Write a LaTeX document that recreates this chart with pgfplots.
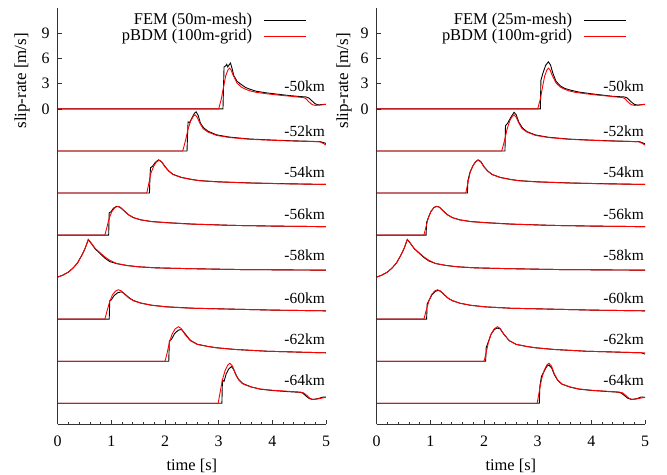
\documentclass[border=0pt]{standalone}
\usepackage{fontspec}
\setmainfont{Liberation Serif}
\usepackage{pgfplots}
\usepackage{pgfplotstable}
\pgfplotsset{compat=1.18}

% ---- pBDM (100m-grid), shared by both panels ----
\pgfplotstableread{
t v
0 0
3.00 0
3.05 1.2
3.09 2.6
3.13 3.9
3.17 4.6
3.20 4.85
3.23 4.65
3.27 4.0
3.34 3.1
3.42 2.6
3.50 2.35
3.58 2.15
3.70 1.97
3.90 1.80
4.10 1.65
4.27 1.55
4.45 1.43
4.57 1.36
4.62 1.25
4.68 0.85
4.74 0.52
4.80 0.42
4.88 0.45
5.00 0.55
}\Ra
\pgfplotstableread{
t v
0 0
2.33 0
2.38 1.2
2.43 2.6
2.48 3.6
2.53 4.15
2.56 4.3
2.60 4.0
2.65 3.3
2.71 2.65
2.80 2.25
2.96 1.85
3.20 1.60
3.58 1.39
4.00 1.27
4.33 1.19
4.70 1.13
4.88 1.10
4.95 0.9
5.00 0.7
}\Rb
\pgfplotstableread{
t v
0 0
1.66 0
1.70 1.2
1.74 2.4
1.79 3.2
1.84 3.7
1.89 3.9
1.94 3.7
2.00 3.1
2.07 2.6
2.15 2.2
2.30 1.85
2.50 1.60
2.65 1.46
3.00 1.32
3.58 1.19
4.20 1.10
5.00 1.02
}\Rc
\pgfplotstableread{
t v
0 0
0.88 0
0.92 1.0
0.96 2.0
1.01 2.8
1.07 3.3
1.12 3.4
1.17 3.3
1.24 2.85
1.32 2.4
1.41 2.07
1.55 1.8
1.75 1.6
2.03 1.47
2.50 1.30
3.27 1.15
4.00 1.07
5.00 1.00
}\Rd
\pgfplotstableread{
t v
0 0
0.10 0.25
0.20 0.6
0.29 1.1
0.37 1.7
0.45 2.6
0.51 3.4
0.57 4.48
0.62 4.1
0.70 3.4
0.79 2.9
0.88 2.4
0.97 2.0
1.10 1.62
1.29 1.39
1.50 1.23
1.84 1.10
2.50 1.00
3.40 0.90
4.20 0.86
5.00 0.83
}\Re
\pgfplotstableread{
t v
0 0
0.88 0
0.92 1.0
0.97 2.1
1.02 2.9
1.08 3.35
1.13 3.5
1.19 3.35
1.26 2.9
1.33 2.5
1.41 2.2
1.55 1.9
1.75 1.65
2.03 1.46
2.50 1.30
3.27 1.19
4.00 1.08
5.00 0.99
}\Rf
\pgfplotstableread{
t v
0 0
2.00 0
2.04 1.0
2.08 2.2
2.13 3.2
2.19 3.85
2.25 4.1
2.30 3.9
2.37 3.2
2.47 2.45
2.60 2.0
2.80 1.75
2.96 1.6
3.30 1.4
3.90 1.19
4.50 1.08
5.00 1.00
}\Rg
\pgfplotstableread{
t v
0 0
2.99 0
3.03 1.4
3.07 2.8
3.12 3.9
3.17 4.55
3.21 4.76
3.26 4.4
3.31 3.5
3.37 2.8
3.45 2.3
3.60 1.95
3.77 1.70
4.00 1.55
4.30 1.42
4.52 1.33
4.58 1.25
4.64 0.95
4.70 0.60
4.76 0.45
4.85 0.52
4.95 0.65
5.00 0.72
}\Rh

% ---- FEM (50m-mesh), left panel ----
\pgfplotstableread{
t v
0 0
3.08 0
3.09 2.5
3.10 5.0
3.13 5.1
3.15 5.3
3.17 5.0
3.19 5.2
3.22 5.45
3.25 4.8
3.28 4.0
3.34 3.3
3.40 3.0
3.50 2.55
3.60 2.3
3.70 2.1
3.90 1.9
4.10 1.75
4.30 1.6
4.50 1.48
4.63 1.42
4.68 1.3
4.74 0.95
4.80 0.6
4.86 0.48
4.93 0.52
5.00 0.55
}\Ba
\pgfplotstableread{
t v
0 0
2.41 0
2.42 2.0
2.43 3.45
2.46 3.4
2.50 3.9
2.55 4.5
2.58 4.65
2.62 4.2
2.66 3.3
2.72 2.75
2.80 2.35
2.96 1.92
3.20 1.65
3.58 1.42
4.00 1.30
4.33 1.22
4.70 1.15
4.90 1.10
5.00 0.9
}\Bb
\pgfplotstableread{
t v
0 0
1.71 0
1.72 2.0
1.73 3.0
1.77 3.2
1.82 3.65
1.88 3.95
1.93 3.75
2.00 3.15
2.07 2.62
2.15 2.22
2.30 1.87
2.50 1.61
2.65 1.47
3.00 1.33
3.58 1.20
4.20 1.11
5.00 1.02
}\Bc
\pgfplotstableread{
t v
0 0
0.95 0
0.96 2.66
0.99 2.75
1.04 3.2
1.10 3.42
1.15 3.35
1.24 2.87
1.32 2.42
1.41 2.08
1.55 1.81
1.75 1.61
2.03 1.48
2.50 1.31
3.27 1.15
4.00 1.07
5.00 1.00
}\Bd
\pgfplotstableread{
t v
0 0
0.10 0.25
0.20 0.6
0.29 1.1
0.37 1.7
0.45 2.6
0.51 3.4
0.57 4.45
0.62 4.05
0.70 3.35
0.79 2.8
0.88 2.25
0.97 1.85
1.10 1.6
1.29 1.38
1.50 1.23
1.84 1.10
2.50 1.00
3.40 0.90
4.20 0.86
5.00 0.83
}\Be
\pgfplotstableread{
t v
0 0
0.96 0
0.97 2.2
1.00 2.3
1.05 2.8
1.12 3.15
1.19 3.25
1.25 3.0
1.33 2.55
1.41 2.22
1.55 1.92
1.75 1.66
2.03 1.47
2.50 1.31
3.27 1.19
4.00 1.08
5.00 0.99
}\Bf
\pgfplotstableread{
t v
0 0
2.07 0
2.08 2.4
2.12 2.6
2.18 3.3
2.25 3.7
2.31 3.77
2.37 3.3
2.47 2.5
2.60 2.02
2.80 1.76
2.96 1.6
3.30 1.4
3.90 1.19
4.50 1.08
5.00 1.00
}\Bg
\pgfplotstableread{
t v
0 0
3.06 0
3.07 2.77
3.10 2.6
3.14 3.5
3.19 4.1
3.24 4.36
3.28 4.0
3.33 3.3
3.37 2.85
3.45 2.35
3.60 1.95
3.77 1.68
4.00 1.52
4.30 1.38
4.52 1.30
4.57 1.2
4.63 0.85
4.69 0.55
4.75 0.45
4.85 0.55
4.95 0.75
5.00 0.72
}\Bh

% ---- FEM (25m-mesh), right panel ----
\pgfplotstableread{
t v
0 0
3.05 0
3.06 3.4
3.10 4.3
3.15 5.2
3.20 5.6
3.24 5.2
3.28 4.3
3.34 3.3
3.42 2.75
3.50 2.45
3.60 2.25
3.77 2.0
4.00 1.8
4.20 1.65
4.40 1.5
4.62 1.42
4.67 1.3
4.73 0.9
4.80 0.55
4.86 0.45
4.93 0.5
5.00 0.55
}\Ca
\pgfplotstableread{
t v
0 0
2.39 0
2.40 3.0
2.44 3.3
2.50 4.0
2.56 4.6
2.60 4.3
2.65 3.4
2.72 2.72
2.80 2.3
2.96 1.9
3.20 1.63
3.58 1.41
4.00 1.29
4.33 1.21
4.70 1.14
4.90 1.1
5.00 0.85
}\Cb
\pgfplotstableread{
t v
0 0
1.69 0
1.70 1.5
1.74 2.5
1.79 3.2
1.84 3.7
1.89 3.95
1.94 3.75
2.00 3.12
2.07 2.61
2.15 2.21
2.30 1.86
2.50 1.61
2.65 1.47
3.00 1.33
3.58 1.2
4.20 1.11
5.00 1.02
}\Cc
\pgfplotstableread{
t v
0 0
0.92 0
0.93 1.5
0.97 2.2
1.01 2.8
1.07 3.3
1.12 3.42
1.17 3.32
1.24 2.87
1.32 2.42
1.41 2.08
1.55 1.81
1.75 1.61
2.03 1.48
2.50 1.31
3.27 1.15
4.00 1.07
5.00 1.00
}\Cd
\pgfplotstableread{
t v
0 0
0.10 0.25
0.20 0.6
0.29 1.1
0.37 1.7
0.45 2.6
0.51 3.4
0.57 4.46
0.62 4.08
0.70 3.38
0.79 2.85
0.88 2.33
0.97 1.93
1.10 1.61
1.29 1.39
1.50 1.23
1.84 1.10
2.50 1.00
3.40 0.90
4.20 0.86
5.00 0.83
}\Ce
\pgfplotstableread{
t v
0 0
0.93 0
0.94 1.8
0.98 2.3
1.03 2.9
1.09 3.3
1.14 3.42
1.19 3.32
1.26 2.9
1.33 2.5
1.41 2.2
1.55 1.9
1.75 1.65
2.03 1.46
2.50 1.30
3.27 1.19
4.00 1.08
5.00 0.99
}\Cf
\pgfplotstableread{
t v
0 0
2.03 0
2.04 1.6
2.08 2.3
2.13 3.2
2.19 3.75
2.24 3.95
2.30 3.85
2.37 3.2
2.47 2.45
2.60 2.0
2.80 1.75
2.96 1.6
3.30 1.4
3.90 1.19
4.50 1.08
4.93 1.0
5.00 0.85
}\Cg
\pgfplotstableread{
t v
0 0
3.03 0
3.04 2.0
3.07 3.2
3.12 3.8
3.17 4.4
3.21 4.55
3.26 4.2
3.31 3.4
3.37 2.75
3.45 2.28
3.60 1.93
3.77 1.68
4.00 1.53
4.30 1.40
4.50 1.32
4.56 1.2
4.62 0.9
4.68 0.6
4.75 0.45
4.85 0.55
4.93 0.75
5.00 0.7
}\Ch

\newcommand{\trace}[3]{%
  \addplot[black, line width=0.9bp, forget plot] table[x=t, y expr=\thisrow{v}-#3] {#1};
  \addplot[red, line width=0.9bp, forget plot] table[x=t, y expr=\thisrow{v}-#3] {#2};
}
\newcommand{\lab}[2]{\node[anchor=east, inner sep=0pt, xshift=-1bp] at (axis cs:5,#2) {\fontsize{15.5}{18}\selectfont #1};}
\newcommand{\legtxt}[1]{\fontsize{16.5}{19}\selectfont #1}

\pgfplotsset{
  panel/.style={
    scale only axis, width=268.3bp, height=416.3bp,
    xmin=0, xmax=5, ymin=-37.5, ymax=12,
    axis x line*=bottom, axis y line*=left,
    axis line style={line width=1.1bp, black!80},
    xtick={0,1,2,3,4,5}, minor x tick num=4,
    ytick={0,3,6,9},
    major tick length=4bp, minor tick length=2.5bp,
    every tick/.style={black!80, line width=0.7bp},
    tick align=inside,
    /pgf/number format/assume math mode=true,
    xticklabel style={anchor=center, yshift=-17.4bp, inner sep=0pt, font=\fontsize{16}{19}\selectfont},
    yticklabel style={anchor=east, xshift=-4.5bp, font=\fontsize{16}{19}\selectfont},
    xlabel={\fontsize{16.5}{19}\selectfont time [s]},
    xlabel style={at={(axis description cs:0.5,0)}, anchor=center, yshift=-42bp},
    ylabel={\fontsize{17}{20}\selectfont slip-rate [m/s]},
    legend style={draw=none, fill=none, anchor=north east, inner sep=0pt, outer sep=0pt,
      nodes={inner sep=0.5bp, text height=11.2bp, text depth=3.8bp}, column sep=11bp},
    legend cell align=right,
    legend plot pos=right,
    legend image code/.code={\draw[##1] (0bp,0bp) -- (42bp,0bp);},
  }
}

\begin{document}
\begin{tikzpicture}
\path[use as bounding box] (0,0) rectangle (667bp,475bp);

\begin{axis}[panel, at={(57.7bp,50.7bp)}, anchor=south west,
  ylabel style={at={(axis description cs:-0.133,0.825)}, anchor=center},
  legend style={at={(axis cs:4.637,11.44)}}]
  \addplot[black, line width=0.9bp] table[x=t, y=v] {\Ba};
  \addlegendentry{\legtxt{FEM (50m-mesh)}}
  \addplot[red, line width=0.9bp] table[x=t, y=v] {\Ra};
  \addlegendentry{\legtxt{pBDM (100m-grid)}}
  \trace{\Bb}{\Rb}{5}
  \trace{\Bc}{\Rc}{10}
  \trace{\Bd}{\Rd}{15}
  \trace{\Be}{\Re}{20}
  \trace{\Bf}{\Rf}{25}
  \trace{\Bg}{\Rg}{30}
  \trace{\Bh}{\Rh}{35}
  \lab{-50km}{2.7}
  \lab{-52km}{-2.64}
  \lab{-54km}{-7.5}
  \lab{-56km}{-12.5}
  \lab{-58km}{-17.35}
  \lab{-60km}{-22.45}
  \lab{-62km}{-27.43}
  \lab{-64km}{-32.2}
\end{axis}

\begin{axis}[panel, at={(376.7bp,50.7bp)}, anchor=south west,
  ylabel style={at={(axis description cs:-0.122,0.825)}, anchor=center},
  legend style={at={(axis cs:4.656,11.44)}}]
  \addplot[black, line width=0.9bp] table[x=t, y=v] {\Ca};
  \addlegendentry{\legtxt{FEM (25m-mesh)}}
  \addplot[red, line width=0.9bp] table[x=t, y=v] {\Ra};
  \addlegendentry{\legtxt{pBDM (100m-grid)}}
  \trace{\Cb}{\Rb}{5}
  \trace{\Cc}{\Rc}{10}
  \trace{\Cd}{\Rd}{15}
  \trace{\Ce}{\Re}{20}
  \trace{\Cf}{\Rf}{25}
  \trace{\Cg}{\Rg}{30}
  \trace{\Ch}{\Rh}{35}
  \lab{-50km}{2.7}
  \lab{-52km}{-2.64}
  \lab{-54km}{-7.5}
  \lab{-56km}{-12.5}
  \lab{-58km}{-17.35}
  \lab{-60km}{-22.45}
  \lab{-62km}{-27.43}
  \lab{-64km}{-32.2}
\end{axis}
\end{tikzpicture}
\end{document}
